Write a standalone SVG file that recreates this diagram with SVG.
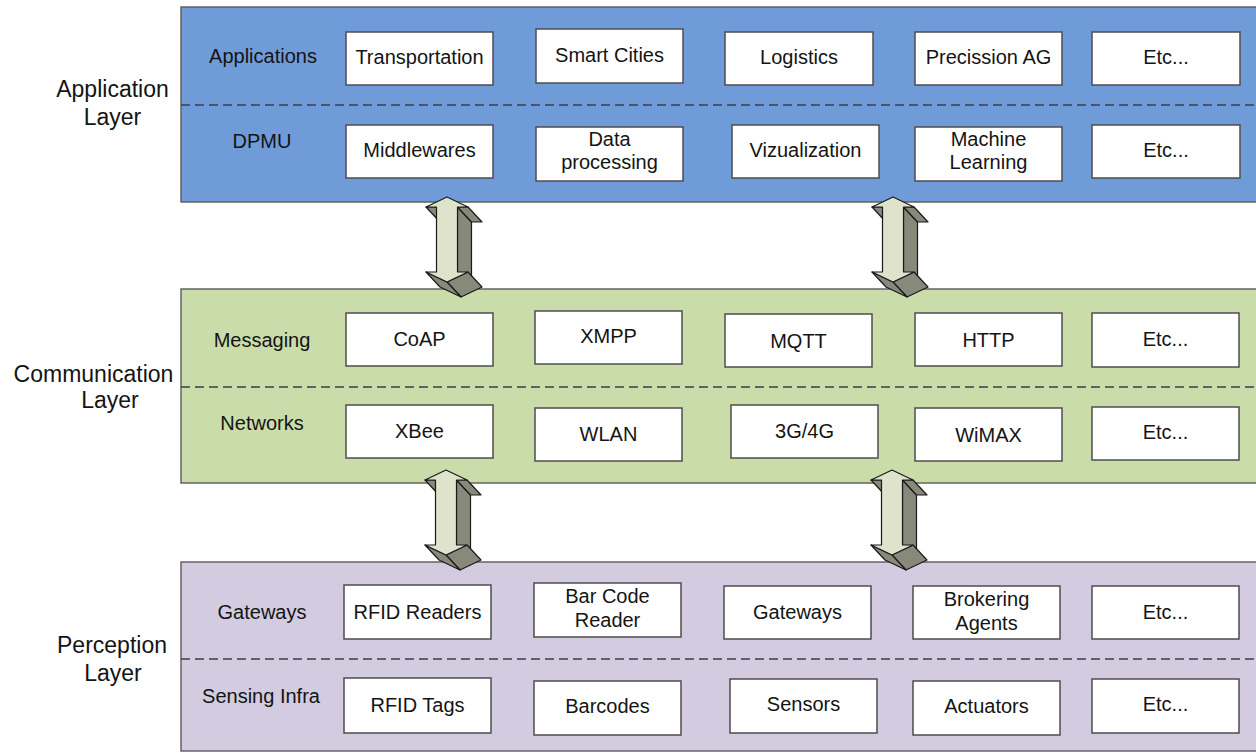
<svg xmlns="http://www.w3.org/2000/svg" xmlns:xlink="http://www.w3.org/1999/xlink" width="1256" height="756" viewBox="0 0 1256 756">
<style>
text{font-family:"Liberation Sans",Arial,sans-serif;fill:#141414}
.outer{font-size:23px;text-anchor:middle}
.lbl{font-size:20px;text-anchor:middle}
.bt{font-size:20px;text-anchor:middle}
.box{fill:#ffffff;stroke:#4d4d4d;stroke-width:1.5}
.layer{stroke:#5a5a5a;stroke-width:1.4}
.dash{stroke:#3a4048;stroke-width:1.6;stroke-dasharray:9 5;fill:none}
.af{fill:#dee3cb;stroke:#1a1a1a;stroke-width:1.2;stroke-linejoin:round}
.ad{fill:#878a7a;stroke:#1a1a1a;stroke-width:1.2;stroke-linejoin:round}
</style>
<defs>
<g id="dblarrow">
<polygon class="ad" points="10.5,10 24.5,25 24.5,90 10.5,75"/>
<polygon class="ad" points="10.5,10 21,10 35,25 24.5,25"/>
<polygon class="ad" points="21,75 35,90 14,100 0,85"/>
<polygon class="ad" points="-21,75 0,85 14,100 -7,90"/>
<polygon class="ad" points="-21,10 -10.5,10 3.5,25 -7,25"/>
<polygon class="af" points="0,0 21,10 10.5,10 10.5,75 21,75 0,85 -21,75 -10.5,75 -10.5,10 -21,10"/>
</g>
</defs>
<rect width="1256" height="756" fill="#ffffff"/>

<!-- Application layer -->
<g id="application-layer">
<rect class="layer" x="181" y="7" width="1090" height="195" fill="#6f9cd9"/>
<line class="dash" x1="181" y1="105" x2="1256" y2="105"/>
<text class="outer" x="112.5" y="97">Application</text>
<text class="outer" x="112.5" y="125">Layer</text>
<text class="lbl" x="263" y="63">Applications</text>
<text class="lbl" x="262" y="148">DPMU</text>
</g>
<g id="transportation"><rect class="box" x="346" y="32" width="147" height="53"/><text class="bt" x="419.5" y="64">Transportation</text></g>
<g id="smart-cities"><rect class="box" x="536" y="29" width="147" height="54"/><text class="bt" x="609.5" y="62">Smart Cities</text></g>
<g id="logistics"><rect class="box" x="725" y="32" width="148" height="53"/><text class="bt" x="799" y="64">Logistics</text></g>
<g id="precission-ag"><rect class="box" x="915" y="32" width="147" height="53"/><text class="bt" x="988.5" y="64">Precission AG</text></g>
<g id="etc-app"><rect class="box" x="1092" y="32" width="148" height="53"/><text class="bt" x="1166" y="64">Etc...</text></g>
<g id="middlewares"><rect class="box" x="346" y="125" width="147" height="53"/><text class="bt" x="419.5" y="157">Middlewares</text></g>
<g id="data-processing"><rect class="box" x="536" y="127" width="147" height="54"/><text class="bt" x="609.5" y="146">Data</text><text class="bt" x="609.5" y="169">processing</text></g>
<g id="vizualization"><rect class="box" x="732" y="125" width="147" height="53"/><text class="bt" x="805.5" y="157">Vizualization</text></g>
<g id="machine-learning"><rect class="box" x="915" y="127" width="147" height="54"/><text class="bt" x="988.5" y="146">Machine</text><text class="bt" x="988.5" y="169">Learning</text></g>
<g id="etc-dpmu"><rect class="box" x="1092" y="125" width="148" height="53"/><text class="bt" x="1166" y="157">Etc...</text></g>

<!-- Communication layer -->
<g id="communication-layer">
<rect class="layer" x="181" y="289" width="1090" height="194" fill="#cbdcab"/>
<line class="dash" x1="181" y1="387" x2="1256" y2="387"/>
<text class="outer" x="93.5" y="382">Communication</text>
<text class="outer" x="110" y="408">Layer</text>
<text class="lbl" x="262" y="347">Messaging</text>
<text class="lbl" x="262" y="430">Networks</text>
</g>
<g id="coap"><rect class="box" x="346" y="313" width="147" height="53"/><text class="bt" x="419.5" y="346">CoAP</text></g>
<g id="xmpp"><rect class="box" x="535" y="311" width="147" height="53"/><text class="bt" x="608.5" y="343">XMPP</text></g>
<g id="mqtt"><rect class="box" x="725" y="314" width="147" height="53"/><text class="bt" x="798.5" y="348">MQTT</text></g>
<g id="http"><rect class="box" x="915" y="313" width="147" height="53"/><text class="bt" x="988.5" y="347">HTTP</text></g>
<g id="etc-messaging"><rect class="box" x="1092" y="313" width="147" height="54"/><text class="bt" x="1165.5" y="346">Etc...</text></g>
<g id="xbee"><rect class="box" x="346" y="405" width="147" height="53"/><text class="bt" x="419.5" y="438">XBee</text></g>
<g id="wlan"><rect class="box" x="535" y="408" width="147" height="53"/><text class="bt" x="608.5" y="441">WLAN</text></g>
<g id="g3g4g"><rect class="box" x="731" y="405" width="147" height="53"/><text class="bt" x="804.5" y="438">3G/4G</text></g>
<g id="wimax"><rect class="box" x="915" y="408" width="147" height="53"/><text class="bt" x="988.5" y="442">WiMAX</text></g>
<g id="etc-networks"><rect class="box" x="1092" y="407" width="147" height="53"/><text class="bt" x="1165.5" y="439">Etc...</text></g>

<!-- Perception layer -->
<g id="perception-layer">
<rect class="layer" x="181" y="562" width="1090" height="189" fill="#d3cbe0"/>
<line class="dash" x1="181" y1="659" x2="1256" y2="659"/>
<text class="outer" x="112" y="653">Perception</text>
<text class="outer" x="113" y="681">Layer</text>
<text class="lbl" x="262" y="619">Gateways</text>
<text class="lbl" x="261" y="703">Sensing Infra</text>
</g>
<g id="rfid-readers"><rect class="box" x="344" y="585" width="147" height="54"/><text class="bt" x="417.5" y="619">RFID Readers</text></g>
<g id="bar-code-reader"><rect class="box" x="534" y="583" width="147" height="54"/><text class="bt" x="607.5" y="603">Bar Code</text><text class="bt" x="607.5" y="627">Reader</text></g>
<g id="gateways-box"><rect class="box" x="724" y="586" width="147" height="53"/><text class="bt" x="797.5" y="619">Gateways</text></g>
<g id="brokering-agents"><rect class="box" x="913" y="586" width="147" height="53"/><text class="bt" x="986.5" y="606">Brokering</text><text class="bt" x="986.5" y="630">Agents</text></g>
<g id="etc-gateways"><rect class="box" x="1092" y="586" width="147" height="53"/><text class="bt" x="1165.5" y="619">Etc...</text></g>
<g id="rfid-tags"><rect class="box" x="344" y="678" width="147" height="55"/><text class="bt" x="417.5" y="712">RFID Tags</text></g>
<g id="barcodes"><rect class="box" x="534" y="681" width="147" height="54"/><text class="bt" x="607.5" y="713">Barcodes</text></g>
<g id="sensors"><rect class="box" x="730" y="679" width="147" height="54"/><text class="bt" x="803.5" y="711">Sensors</text></g>
<g id="actuators"><rect class="box" x="913" y="681" width="147" height="54"/><text class="bt" x="986.5" y="713">Actuators</text></g>
<g id="etc-sensing"><rect class="box" x="1092" y="679" width="147" height="54"/><text class="bt" x="1165.5" y="711">Etc...</text></g>

<!-- Connectors -->
<g id="connectors">
<use xlink:href="#dblarrow" href="#dblarrow" x="447" y="197"/>
<use xlink:href="#dblarrow" href="#dblarrow" x="893" y="197"/>
<use xlink:href="#dblarrow" href="#dblarrow" x="446" y="470"/>
<use xlink:href="#dblarrow" href="#dblarrow" x="892" y="470"/>
</g>
</svg>
